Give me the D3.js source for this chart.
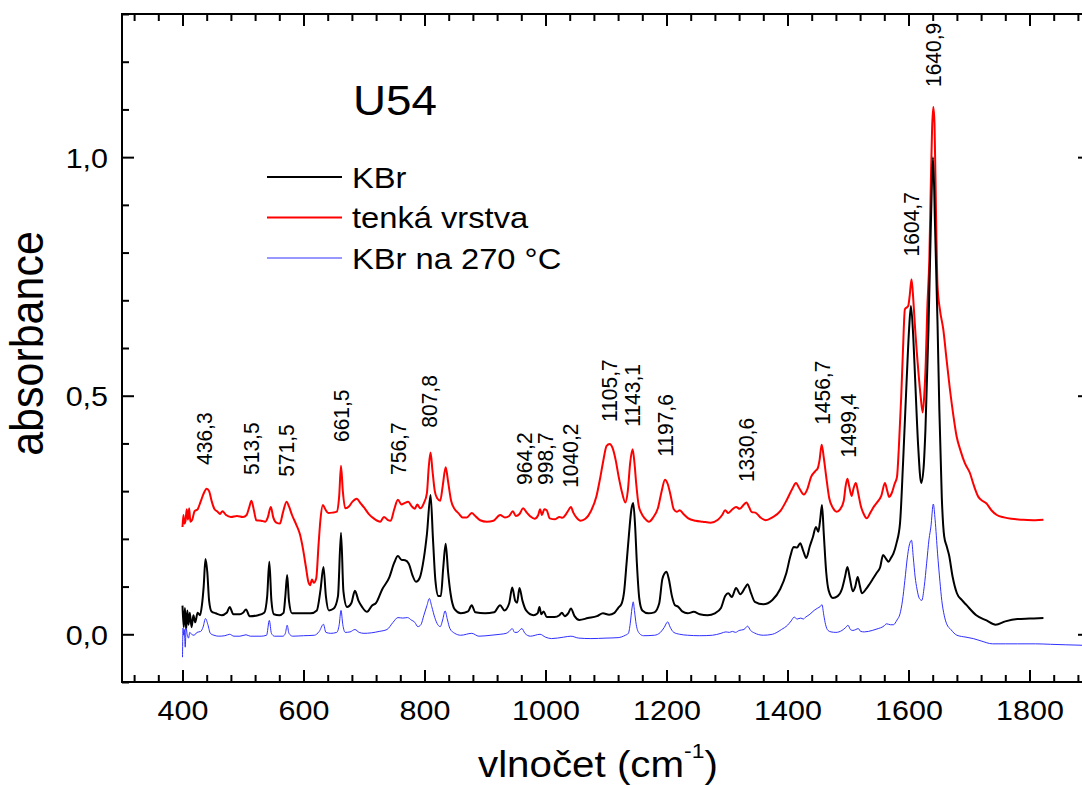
<!DOCTYPE html>
<html>
<head>
<meta charset="utf-8">
<script src="https://cdn.jsdelivr.net/npm/d3@7"></script>
<style>
  body { margin: 0; background: #fff; }
  svg { display: block; font-family: 'Liberation Sans', Arial, sans-serif; }
</style>
</head>
<body>
<svg width="1082" height="785"></svg>
<script>
// spectra: [wavenumber, absorbance]
const kbr = [
  [400,0.060],[402,0.015],[404,0.055],[406,0.010],[408,0.050],[410,0.020],[412,0.045],[415,0.015],[418,0.040],[421,0.025],
  [425,0.045],[429,0.040],[432,0.060],[435,0.100],[438,0.158],[441,0.130],[444,0.070],[448,0.048],[455,0.044],[465,0.040],
  [473,0.045],[478,0.057],[484,0.042],[495,0.042],[500,0.045],[505,0.052],[511,0.038],[525,0.040],[535,0.045],[540,0.080],
  [543.5,0.152],[547,0.070],[551,0.042],[560,0.040],[567,0.045],[570,0.080],[573,0.124],[576,0.070],[581,0.044],[595,0.044],
  [612,0.044],[622,0.050],[628,0.092],[633,0.141],[637,0.080],[642,0.050],[650,0.054],[657,0.080],[662,0.213],[666,0.090],
  [672,0.057],[679,0.065],[685,0.091],[691,0.070],[697,0.057],[705,0.047],[713,0.060],[720,0.066],[730,0.094],[742,0.120],
  [750,0.150],[756,0.164],[762,0.156],[768,0.155],[774,0.148],[780,0.124],[786,0.110],[792,0.118],[799,0.160],[804,0.210],
  [810,0.292],[814,0.200],[818,0.113],[823,0.080],[827,0.080],[831,0.140],[835,0.190],[839,0.130],[843,0.086],[850,0.052],
  [860,0.044],[872,0.048],[878,0.061],[884,0.046],[900,0.044],[915,0.046],[925,0.061],[932,0.050],[940,0.065],[945,0.098],
  [950,0.070],[953,0.066],[957,0.097],[962,0.070],[968,0.050],[980,0.040],[987,0.044],[990,0.057],[993,0.042],[997,0.048],
  [1002,0.036],[1015,0.036],[1023,0.040],[1027,0.045],[1032,0.038],[1038,0.045],[1042,0.054],[1048,0.038],[1056,0.030],[1070,0.034],
  [1085,0.038],[1095,0.044],[1105,0.041],[1114,0.045],[1120,0.055],[1126,0.065],[1130,0.090],[1134,0.149],[1138,0.210],[1142,0.262],
  [1145,0.275],[1148,0.230],[1151,0.150],[1155,0.075],[1160,0.050],[1170,0.044],[1180,0.046],[1188,0.065],[1193,0.115],[1197,0.128],
  [1200,0.131],[1204,0.115],[1209,0.080],[1214,0.061],[1219,0.058],[1226,0.048],[1235,0.044],[1245,0.047],[1255,0.042],[1268,0.040],
  [1280,0.044],[1290,0.055],[1297,0.080],[1302,0.086],[1308,0.078],[1315,0.097],[1322,0.084],[1330,0.098],[1334,0.105],[1340,0.085],
  [1346,0.068],[1360,0.063],[1375,0.072],[1388,0.095],[1398,0.128],[1405,0.165],[1410,0.183],[1416,0.182],[1421,0.191],[1426,0.175],
  [1431,0.160],[1437,0.185],[1442,0.204],[1447,0.225],[1451,0.215],[1454,0.240],[1457,0.271],[1460,0.210],[1464,0.130],[1468,0.092],
  [1475,0.076],[1483,0.080],[1490,0.095],[1495,0.120],[1499,0.141],[1503,0.118],[1508,0.090],[1512,0.100],[1516,0.120],[1519,0.105],
  [1523,0.086],[1530,0.095],[1536,0.106],[1542,0.118],[1547,0.128],[1553,0.140],[1558,0.166],[1563,0.158],[1567,0.152],[1571,0.160],
  [1575,0.169],[1580,0.190],[1586,0.233],[1591,0.359],[1597,0.534],[1601,0.640],[1604,0.688],[1608,0.620],[1611,0.534],[1616,0.394],
  [1621,0.317],[1625,0.350],[1628,0.429],[1633,0.639],[1637,0.860],[1640.5,1.000],[1644,0.850],[1648,0.650],[1651,0.470],[1655,0.288],
  [1659,0.205],[1663,0.185],[1667,0.166],[1673,0.120],[1680,0.086],[1688,0.072],[1696,0.061],[1712,0.040],[1729,0.029],[1744,0.020],
  [1760,0.027],[1780,0.032],[1800,0.033],[1823,0.034]
]

const film = [
  [400,0.225],[401.5,0.250],[403,0.232],[405,0.238],[407,0.262],[409,0.240],[411,0.264],[413,0.236],[416,0.240],[420,0.258],
  [425,0.262],[430,0.278],[435,0.295],[440,0.305],[444,0.300],[448,0.280],[453,0.262],[458,0.257],[462,0.252],[466,0.258],
  [472,0.250],[480,0.246],[490,0.248],[500,0.246],[506,0.250],[510,0.265],[514,0.280],[518,0.260],[522,0.239],[530,0.238],
  [537,0.236],[541,0.245],[546,0.267],[550,0.245],[555,0.234],[561,0.232],[566,0.255],[572,0.278],[576,0.268],[581,0.250],
  [588,0.230],[594,0.210],[599,0.180],[604,0.141],[608,0.110],[611,0.103],[614,0.115],[617,0.108],[621,0.117],[625,0.190],
  [628,0.240],[632,0.271],[636,0.262],[641,0.254],[648,0.255],[655,0.257],[659,0.290],[662,0.353],[665,0.300],[669,0.264],
  [675,0.268],[681,0.278],[688,0.284],[694,0.275],[700,0.266],[708,0.252],[716,0.243],[722,0.238],[727,0.236],[733,0.246],
  [739,0.240],[744,0.238],[750,0.262],[756,0.282],[762,0.272],[767,0.275],[773,0.278],[779,0.268],[784,0.263],[788,0.272],
  [793,0.264],[799,0.275],[804,0.296],[807,0.350],[810,0.381],[813,0.345],[817,0.300],[821,0.285],[826,0.280],[830,0.310],
  [835,0.350],[839,0.320],[844,0.280],[850,0.262],[856,0.254],[863,0.245],[870,0.245],[878,0.254],[884,0.248],[892,0.239],
  [903,0.236],[914,0.238],[925,0.250],[933,0.245],[940,0.248],[946,0.258],[951,0.248],[957,0.252],[963,0.264],[969,0.255],
  [975,0.247],[982,0.242],[988,0.250],[991,0.262],[994,0.250],[998,0.262],[1002,0.260],[1007,0.243],[1016,0.241],[1023,0.246],
  [1028,0.244],[1034,0.252],[1039,0.262],[1042,0.267],[1046,0.255],[1051,0.245],[1058,0.238],[1066,0.242],[1075,0.258],[1084,0.288],
  [1090,0.325],[1095,0.360],[1101,0.395],[1106,0.399],[1111,0.390],[1116,0.365],[1121,0.330],[1126,0.300],[1132,0.276],[1136,0.300],
  [1140,0.360],[1144,0.388],[1147,0.360],[1150,0.315],[1154,0.270],[1158,0.255],[1164,0.243],[1171,0.236],[1178,0.245],[1186,0.265],
  [1192,0.300],[1197.5,0.324],[1202,0.315],[1207,0.290],[1212,0.262],[1217,0.257],[1222,0.260],[1228,0.252],[1236,0.243],[1248,0.238],
  [1260,0.236],[1273,0.234],[1285,0.240],[1292,0.250],[1297,0.260],[1302,0.254],[1309,0.262],[1315,0.267],[1321,0.263],[1328,0.272],
  [1332,0.276],[1337,0.265],[1341,0.256],[1347,0.255],[1355,0.245],[1364,0.239],[1375,0.245],[1388,0.258],[1399,0.282],[1408,0.305],
  [1414,0.317],[1420,0.305],[1427,0.293],[1433,0.305],[1439,0.330],[1446,0.342],[1450,0.348],[1453,0.365],[1456.5,0.397],[1460,0.370],
  [1464,0.330],[1469,0.285],[1475,0.265],[1481,0.257],[1487,0.262],[1493,0.280],[1496,0.310],[1499,0.326],[1502,0.310],[1506,0.290],
  [1509,0.305],[1513,0.317],[1517,0.295],[1521,0.270],[1526,0.252],[1531,0.243],[1537,0.255],[1543,0.268],[1549,0.278],[1555,0.290],
  [1561,0.317],[1565,0.300],[1568,0.288],[1572,0.295],[1577,0.315],[1581,0.330],[1584,0.390],[1588,0.499],[1591,0.600],[1594,0.681],
  [1597,0.685],[1599.5,0.688],[1602,0.710],[1605,0.744],[1608,0.700],[1611,0.639],[1616.5,0.548],[1620,0.500],[1623.4,0.465],[1626,0.500],
  [1628.5,0.569],[1631,0.680],[1634.5,0.790],[1637,0.950],[1639,1.060],[1641,1.105],[1643,1.070],[1645.5,0.880],[1648,0.730],[1652,0.680],
  [1657.5,0.639],[1663,0.575],[1668.5,0.513],[1674,0.460],[1679.5,0.415],[1686,0.385],[1693,0.359],[1701.5,0.338],[1708,0.312],[1715.5,0.288],
  [1722,0.280],[1729,0.274],[1737,0.260],[1746,0.250],[1758,0.245],[1770,0.242],[1790,0.240],[1810,0.239],[1823,0.240]
]

const kbr270 = [
  [400,-0.048],[400.8,0.013],[402,-0.002],[403,0.010],[404.5,-0.027],[406,0.013],[408,-0.002],[410,-0.008],[412,0.004],[415,0.000],
  [419,-0.002],[424,0.004],[430,0.006],[434,0.015],[438,0.033],[442,0.020],[446,0.002],[452,-0.002],[460,-0.004],[470,-0.003],
  [478,0.000],[485,-0.004],[495,-0.004],[505,-0.001],[512,-0.004],[530,-0.004],[539,-0.002],[543.5,0.029],[547,0.002],[552,-0.004],
  [566,-0.004],[570,0.002],[573,0.019],[576,0.002],[582,-0.004],[600,-0.003],[618,-0.002],[626,0.006],[633,0.021],[637,0.004],
  [645,0.002],[655,0.004],[659,0.020],[662,0.050],[665,0.020],[669,0.004],[677,0.005],[685,0.010],[692,0.004],[700,0.002],
  [712,0.003],[725,0.006],[738,0.010],[748,0.025],[756,0.035],[764,0.034],[772,0.035],[778,0.030],[784,0.025],[789,0.016],
  [794,0.020],[799,0.040],[804,0.060],[808,0.075],[812,0.058],[817,0.035],[822,0.020],[826,0.016],[830,0.030],[834,0.049],
  [838,0.030],[842,0.012],[850,0.002],[860,-0.002],[878,0.002],[890,-0.004],[910,-0.002],[925,0.000],[935,0.002],[940,0.006],
  [945,0.012],[949,0.004],[953,0.004],[961,0.012],[966,0.002],[975,-0.004],[991,0.000],[1000,-0.006],[1010,-0.009],[1030,-0.006],
  [1042,-0.004],[1055,-0.008],[1075,-0.009],[1100,-0.008],[1120,-0.007],[1132,-0.002],[1137,0.002],[1140,0.022],[1143,0.055],[1145,0.068],
  [1147,0.050],[1150,0.020],[1155,0.002],[1162,-0.003],[1180,-0.002],[1190,0.004],[1196,0.014],[1202,0.026],[1206,0.015],[1212,0.004],
  [1222,0.000],[1235,-0.002],[1255,-0.003],[1276,-0.002],[1290,0.002],[1298,0.005],[1304,0.004],[1309,0.006],[1314,0.004],[1320,0.008],
  [1328,0.010],[1334,0.017],[1339,0.008],[1345,0.003],[1360,-0.002],[1375,0.000],[1390,0.010],[1400,0.019],[1406,0.028],[1411,0.036],
  [1416,0.032],[1422,0.034],[1426,0.032],[1430,0.036],[1437,0.042],[1444,0.050],[1450,0.055],[1454,0.058],[1457,0.062],[1460,0.040],
  [1463,0.020],[1467,0.008],[1472,0.005],[1480,0.004],[1490,0.008],[1496,0.014],[1500,0.019],[1504,0.010],[1508,0.008],[1513,0.010],
  [1517,0.012],[1521,0.006],[1527,0.005],[1540,0.008],[1550,0.012],[1558,0.016],[1564,0.022],[1570,0.020],[1575,0.020],[1581,0.030],
  [1586,0.043],[1590,0.070],[1594,0.113],[1598,0.160],[1601,0.185],[1605,0.197],[1608,0.160],[1611,0.120],[1614,0.095],[1618,0.075],
  [1622,0.071],[1626,0.100],[1630,0.149],[1634,0.200],[1637,0.225],[1641,0.273],[1644,0.240],[1648,0.170],[1652,0.110],[1655,0.071],
  [1659,0.040],[1663,0.022],[1670,0.010],[1680,-0.002],[1695,-0.006],[1707,-0.009],[1720,-0.014],[1739,-0.020],[1760,-0.020],[1780,-0.020],
  [1810,-0.020],[1835,-0.021],[1860,-0.022],[1887,-0.023],[1900,-0.024]
]

const seriesNames = ['KBr', 'tenká vrstva', 'KBr na 270 °C']

// peak annotations: wavenumber and the absorbance level where the label starts
const peakWn = [436.3, 513.5, 571.5, 661.5, 756.7, 807.8, 964.2, 998.7, 1040.2, 1105.7, 1143.1, 1197.6, 1330.6, 1456.7, 1499.4, 1604.7, 1640.9]
const peakLevel = [0.355, 0.334, 0.330, 0.403, 0.334, 0.433, 0.313, 0.313, 0.307, 0.445, 0.435, 0.372, 0.319, 0.439, 0.370, 0.792, 1.147]

const xTicks = [400, 600, 800, 1000, 1200, 1400, 1600, 1800]
const yTicks = [0, 0.5, 1.0]

const sx = 1.09 // text in the picture is a bit wider than plain Arial
const svg = d3.select('svg')

svg.append('rect').attr('width', 1082).attr('height', 785).attr('fill', '#fff')

const x = d3.scaleLinear().domain([300, 1900]).range([122, 1090])
const y = d3.scaleLinear().domain([-0.1, 1.3]).range([682, 14])

const xMinor = d3.range(320, 1900, 40).filter(v => !xTicks.includes(v))
const yMinor = d3.range(-0.1, 1.31, 0.1).map(v => +v.toFixed(1)).filter(v => !yTicks.includes(v))

const comma = v => d3.format('.1f')(v).replace('.', ',')

function styleAxis(g) {
  g.attr('font-family', null).attr('font-size', null)
  g.select('.domain').remove()
  g.selectAll('line').attr('stroke-width', 2)
}

// bottom
svg.append('g')
  .attr('transform', `translate(0,${y(-0.1)})`)
  .call(d3.axisBottom(x).tickValues(xMinor).tickSize(-7).tickFormat(''))
  .call(styleAxis)
svg.append('g')
  .attr('transform', `translate(0,${y(-0.1)})`)
  .call(d3.axisBottom(x).tickValues(xTicks).tickSize(-12).tickPadding(18).tickFormat(d3.format('d')))
  .call(styleAxis)
  .call(g => g.selectAll('text').attr('font-size', 28).attr('transform', `scale(${sx},1)`))

// top
svg.append('g')
  .attr('transform', `translate(0,${y(1.3)})`)
  .call(d3.axisTop(x).tickValues(xMinor).tickSize(-7).tickFormat(''))
  .call(styleAxis)
svg.append('g')
  .attr('transform', `translate(0,${y(1.3)})`)
  .call(d3.axisTop(x).tickValues(xTicks).tickSize(-12).tickFormat(''))
  .call(styleAxis)

// left
svg.append('g')
  .attr('transform', `translate(${x(300)},0)`)
  .call(d3.axisLeft(y).tickValues(yMinor).tickSize(-7).tickFormat(''))
  .call(styleAxis)
svg.append('g')
  .attr('transform', `translate(${x(300)},0)`)
  .call(d3.axisLeft(y).tickValues(yTicks).tickSize(-12).tickPadding(12.8).tickFormat(comma))
  .call(styleAxis)
  .call(g => g.selectAll('text').attr('font-size', 28).attr('dy', '0.36em').attr('transform', `scale(${sx},1)`))

// right
svg.append('g')
  .attr('transform', `translate(${x(1900)},0)`)
  .call(d3.axisRight(y).tickValues(yMinor).tickSize(-7).tickFormat(''))
  .call(styleAxis)
svg.append('g')
  .attr('transform', `translate(${x(1900)},0)`)
  .call(d3.axisRight(y).tickValues(yTicks).tickSize(-12).tickFormat(''))
  .call(styleAxis)

// frame
svg.append('rect')
  .attr('x', x(300)).attr('y', y(1.3))
  .attr('width', x(1900) - x(300)).attr('height', y(-0.1) - y(1.3))
  .attr('fill', 'none').attr('stroke', '#000').attr('stroke-width', 2)

// spectra
const line = d3.line()
  .x(d => x(d[0]))
  .y(d => y(d[1]))
  .curve(d3.curveMonotoneX)

const series = [
  { data: film, color: '#ff0000', width: 2 },
  { data: kbr, color: '#000000', width: 2 },
  { data: kbr270, color: '#3030ff', width: 1 }
]

series.forEach(s => {
  svg.append('path')
    .datum(s.data)
    .attr('d', line)
    .attr('fill', 'none')
    .attr('stroke', s.color)
    .attr('stroke-width', s.width)
    .attr('stroke-linejoin', 'round')
})

// peak labels
svg.selectAll('.peak')
  .data(peakWn)
  .enter().append('text')
  .attr('class', 'peak')
  .attr('font-size', 21)
  .attr('dy', '0.35em')
  .attr('transform', (d, i) => `translate(${x(d)},${y(peakLevel[i])}) scale(${sx},1) rotate(-90)`)
  .text(d => comma(d))

// title and legend
svg.append('text')
  .attr('transform', `translate(353,115) scale(${sx},1)`)
  .attr('font-size', 42)
  .text('U54')

const legendColors = ['#000000', '#ff0000', '#3030ff']
const legendWidths = [2, 2, 1]
seriesNames.forEach((name, i) => {
  const ly = 177 + i * 40.5
  svg.append('line')
    .attr('x1', 267).attr('x2', 342)
    .attr('y1', ly).attr('y2', ly)
    .attr('stroke', legendColors[i])
    .attr('stroke-width', legendWidths[i])
  svg.append('text')
    .attr('transform', `translate(352,${ly + 10.5}) scale(${sx},1)`)
    .attr('font-size', 30)
    .text(name)
})

// axis titles
const xt = svg.append('text')
  .attr('transform', `translate(478,777) scale(${sx},1)`)
  .attr('font-size', 37)
xt.append('tspan').text('vlnočet (cm')
xt.append('tspan').attr('font-size', 21).attr('dy', -19).text('-1')
xt.append('tspan').attr('dy', 19).text(')')

svg.append('text')
  .attr('transform', `translate(43,343.5) scale(${sx},1) rotate(-90)`)
  .attr('font-size', 43)
  .attr('text-anchor', 'middle')
  .text('absorbance')
</script>
</body>
</html>
